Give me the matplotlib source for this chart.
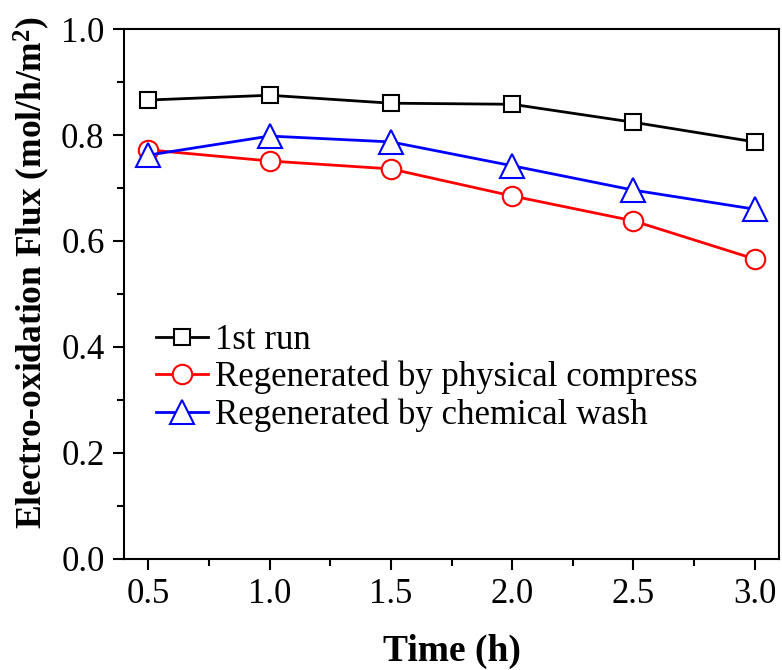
import matplotlib
matplotlib.use('Agg')
import matplotlib.pyplot as plt
from matplotlib.ticker import MultipleLocator

plt.rcParams['font.family'] = 'Liberation Serif'
plt.rcParams['mathtext.fontset'] = 'custom'
plt.rcParams['mathtext.rm'] = 'Liberation Serif'
plt.rcParams['mathtext.bf'] = 'Liberation Serif:bold'

# Data
time_h = [0.5, 1.0, 1.5, 2.0, 2.5, 3.0]
first_run = [0.866, 0.875, 0.860, 0.858, 0.824, 0.787]
physical = [0.772, 0.751, 0.736, 0.685, 0.638, 0.566]
chemical = [0.762, 0.798, 0.787, 0.742, 0.696, 0.660]
labels = ['1st run', 'Regenerated by physical compress', 'Regenerated by chemical wash']

fig = plt.figure(figsize=(7.82, 6.7), dpi=100)
ax = fig.add_axes([0.1586, 0.1657, 0.8376, 0.791])

ax.plot(time_h, first_run, '-s', color='black', lw=2, ms=12,
        mfc='white', mec='black', mew=1.5, label=labels[0])
ax.plot(time_h, physical, '-o', color='red', lw=2, ms=14,
        mfc='white', mec='red', mew=1.5, label=labels[1])
ax.plot(time_h, chemical, '-^', color='blue', lw=2, ms=17,
        mfc='white', mec='blue', mew=1.5, label=labels[2])

ax.set_xlim(0.4, 3.1)
ax.set_ylim(0.0, 1.0)
ax.xaxis.set_major_locator(MultipleLocator(0.5))
ax.xaxis.set_minor_locator(MultipleLocator(0.25))
ax.yaxis.set_major_locator(MultipleLocator(0.2))
ax.yaxis.set_minor_locator(MultipleLocator(0.1))
ax.tick_params(which='major', direction='out', length=8, width=1.5, labelsize=25, pad=6)
ax.tick_params(which='minor', direction='out', length=5, width=1.5)
for s in ax.spines.values():
    s.set_linewidth(1.5)

ax.set_xlabel('Time (h)', fontsize=27, fontweight='bold', labelpad=16)
ax.set_ylabel(r'Electro-oxidation Flux (mol/h/m$\mathbf{^2}$)', fontsize=25.5,
              fontweight='bold')
ax.yaxis.set_label_coords(-0.11, 0.54)

ax.legend(loc='upper left', bbox_to_anchor=(0.027, 0.47), frameon=False, fontsize=25,
          handlelength=1.5, handletextpad=0.2, labelspacing=0.12, borderaxespad=0)

fig.savefig('out.png', dpi=100)
